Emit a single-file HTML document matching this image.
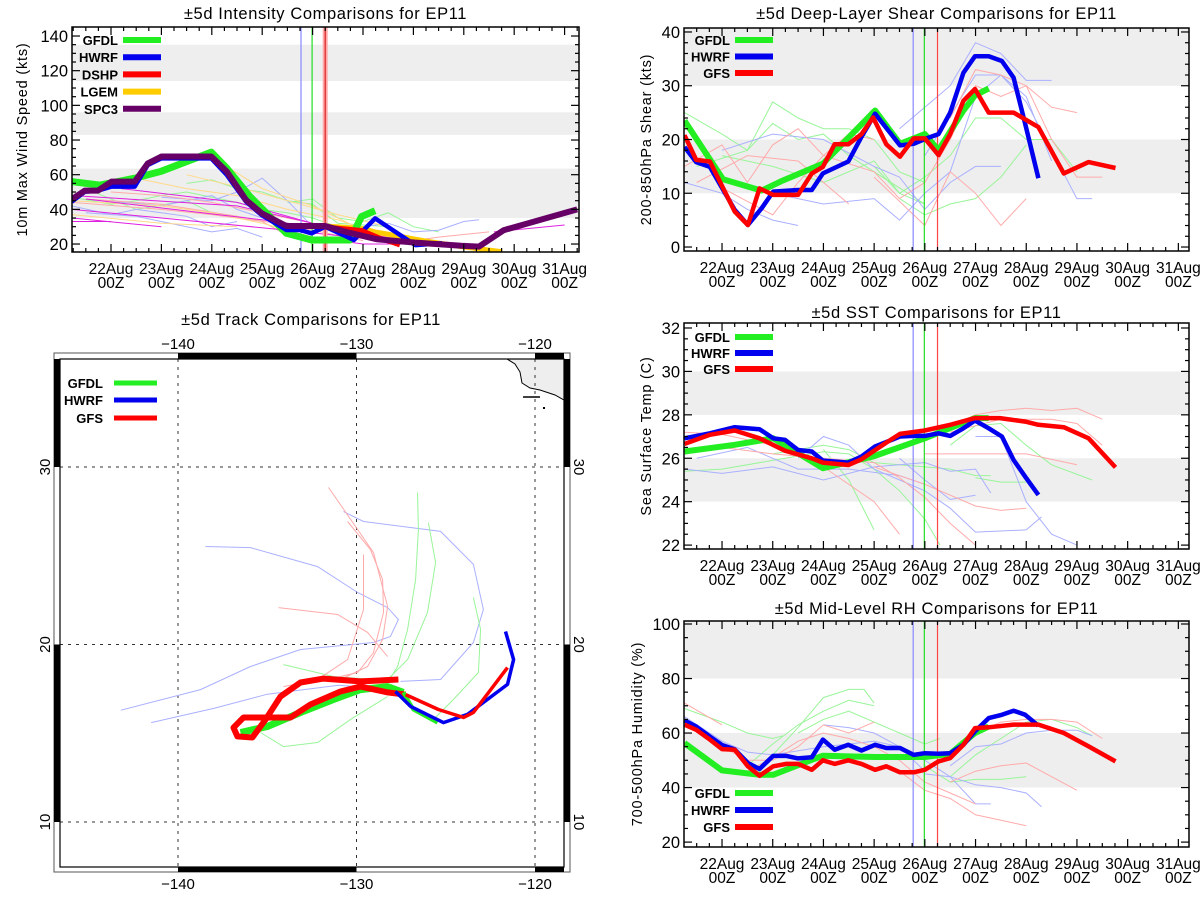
<!DOCTYPE html>
<html><head><meta charset="utf-8"><style>
html,body{margin:0;padding:0;background:#fff}
svg{display:block;font-family:"Liberation Sans",sans-serif}
</style></head><body>
<svg id="c" width="1200" height="900" viewBox="0 0 1200 900" xmlns="http://www.w3.org/2000/svg"></svg>
<script>
// ---------- data (days relative to 22Aug 00Z) ----------
const dayLabels = ["22Aug","23Aug","24Aug","25Aug","26Aug","27Aug","28Aug","29Aug","30Aug","31Aug"];
const initTimes = [3.77, 3.99, 4.25]; // HWRF, GFDL, DSHP/GFS init verticals

// Intensity
const intSpc3D = [-0.78,-0.52,-0.26,0.01,0.47,0.73,1.0,1.99,2.3,2.68,2.99,3.48,4.25,4.66,5.28,6.04,6.95,7.3,7.79,9.25];
const intSpc3V = [45.8,50.8,50.8,56,56,66.5,70.5,70.5,61.7,45.4,37.7,30.4,30.4,27,22.7,20.8,19,18.5,28,40];
const intGfdlD = [-0.78,-0.22,0.47,1.0,1.99,2.3,2.76,3.48,3.98,4.74,4.97,5.24];
const intGfdlV = [56,54,58,62,73,63.7,47.3,26.2,22.3,22.3,35.8,39.2];
const intHwrfD = [-0.78,-0.52,-0.26,0.01,0.47,0.73,1.0,1.99,2.3,2.68,2.99,3.48,3.75,3.98,4.25,4.82,5.24,6.04,6.57];
const intHwrfV = [44.4,50.2,50.8,53.1,53.1,65.6,69.4,69.4,59.8,44.4,36.7,28.1,28.1,26.2,30,22.3,34.8,19.4,20.4];
const intDshpD = [4.25,4.97,5.43,5.73];
const intDshpV = [30,28,22.3,19.4];
const intLgemD = [4.25,4.97,5.24,6.19,6.95,7.76];
const intLgemV = [30.4,29,27,22,18.5,15.6];
const intFaintGreen = [[[-0.78,47],[0,43],[0.5,45],[1,48],[1.5,50],[2,47],[2.5,44],[3,40],[3.5,38],[4,35],[4.5,30]],[[1.5,55],[2,57],[2.5,52],[3,50],[3.5,45],[4,43],[4.5,32],[5.5,30]],[[3.5,44],[4,46],[4.5,35],[5,33],[5.5,38],[6,30],[6.5,27]],[[-0.5,52],[0.5,40],[1.5,45],[2,38],[2.5,35]]];
const intFaintBlue = [[[-0.78,42],[0,37],[0.5,40],[1,38],[1.5,36],[2,30],[2.5,33]],[[1,47],[2,45],[2.5,50],[3,58],[3.5,45],[4,30]],[[4.5,28],[5.5,32],[6,27],[6.5,28],[7,33],[7.3,34]],[[0,45],[1,42],[2,48],[2.5,40],[3,35],[3.5,32]],[[-0.5,38],[0.5,36],[1.5,30],[2,27],[2.5,29],[3,24]]];
const intFaintPink = [[[-0.78,44],[1,40],[2,37],[3,33],[3.5,25]],[[0,50],[1,48],[2,44],[3,38],[4,32],[5,26],[6,22]],[[5.5,20],[6.5,24],[7.5,27]],[[-0.5,46],[1,43],[2.5,36],[4,28],[5,22]]];
const intFaintYellow = [[[-0.78,37],[1,32],[2.5,30]],[[0.5,58],[1.5,52],[2.5,48],[3.5,40],[4.5,34],[5.5,24]],[[1.5,60],[2.5,53],[3.5,45],[4.5,37],[5.5,30]],[[2,70],[3,52],[4,42],[5,28],[6,22],[7,20]],[[-0.78,45],[1,42],[2,38],[3,32],[4,24]]];
const intFaintMagenta = [[[-0.78,48],[2.5,42],[4.3,30]],[[-0.78,40],[1,35],[3.5,28],[4.8,24]],[[-0.78,33],[0,33]],[[-0.78,35],[1,30]],[[0.2,52],[2.5,44],[4,32],[5.8,22]],[[4,24],[5,20],[6,20],[7.2,18]],[[7.6,27],[9,31]],[[-0.5,46],[3,34],[5,26]]];

// Shear
const shrGfdlD = [-0.74,0.02,0.78,1.16,1.99,3.02,3.51,4.0,4.27,4.76,4.99,5.26];
const shrGfdlV = [23.5,12.6,10.5,12.2,15.5,25.4,19.2,21.0,18.0,25.4,28.2,29.5];
const shrHwrfD = [-0.74,-0.51,-0.24,0.25,0.51,0.78,1.01,1.5,1.77,1.99,2.49,2.75,3.02,3.51,3.78,4.0,4.27,4.5,4.76,4.99,5.26,5.52,5.75,5.98,6.24];
const shrHwrfV = [18.6,15.8,14.9,6.9,4.1,7.2,10.3,10.6,10.6,13.7,15.9,20.5,24.8,18.9,19.2,20.1,21.0,25.0,32.4,35.5,35.5,34.6,31.5,22.9,12.8];
const shrGfsD = [-0.74,-0.51,-0.24,0.25,0.51,0.74,1.01,1.5,1.77,1.99,2.22,2.49,2.75,2.98,3.24,3.51,3.78,4.0,4.27,4.5,4.76,4.99,5.26,5.75,6.24,6.74,7.23,7.76];
const shrGfsV = [20.8,16.2,15.9,6.6,4.1,10.9,9.7,9.7,13.7,14.9,19.1,19.1,21.0,24.1,19.1,16.8,20.2,20.2,17.1,21.0,27.2,29.4,25.0,25.0,22.3,13.7,15.8,14.7];
const shrFaintGreen = [[[-0.74,25],[0,21],[0.5,18],[1,27],[1.5,24],[2,22],[2.5,22],[3,20],[3.5,14],[4,12]],[[-0.5,15],[0.5,18],[1,23],[1.5,20],[2,21],[2.5,17],[3,14],[3.5,11],[4,8]],[[3,15],[3.5,10],[4,13],[4.5,17],[5,24],[5.5,24],[6,20],[6.5,20],[7,14]],[[3.5,9],[4,6],[4.5,8],[5,9],[5.5,13],[6,19]],[[0,17],[1,15],[2,12],[3,16],[3.5,10],[4,8]]];
const shrFaintBlue = [[[-0.74,12],[0,10],[0.5,7],[1,5],[1.5,4]],[[0,18],[1,21],[2,20],[3,15],[3.5,13],[4,7],[4.5,12],[5,15],[5.5,15]],[[3.5,22],[4,26],[4.5,30],[5,38],[5.5,36],[6,31],[6.5,31]],[[1,10],[2,8],[3,9],[3.5,5],[4,10],[4.5,14],[5,28],[5.5,32],[6,28],[6.5,16]],[[4,17],[5,32],[5.5,32],[6,27],[6.5,18],[7,9],[7.3,9]]];
const shrFaintPink = [[[-0.74,15],[0,19],[0.5,12],[1,19],[1.5,22],[2,17],[3,14],[3.5,9]],[[0,11],[1,6],[1.5,12],[2,17],[2.5,21],[3,20]],[[3.5,9],[4,12],[4.5,20],[5,30],[5.5,28],[6,30],[6.5,26],[7,25]],[[3,13],[4,4],[4.5,14],[5,10],[5.5,4],[6,9]],[[4.5,24],[5,33],[5.5,32],[6,30],[6.5,20],[7,13],[7.5,13]],[[-0.5,12],[0.5,17],[1.5,16],[2.5,8]]];

// SST
const sstGfdlD = [-0.74,0.25,1.01,1.99,2.98,4.0,4.99,5.26];
const sstGfdlV = [26.31,26.62,26.92,25.54,26.08,26.92,27.85,27.85];
const sstHwrfD = [-0.74,-0.24,0.25,0.74,1.01,1.24,1.5,1.77,1.99,2.49,2.75,3.02,3.51,3.78,4.0,4.27,4.5,4.76,4.99,5.26,5.52,5.75,5.98,6.24];
const sstHwrfV = [26.92,27.15,27.43,27.34,26.92,26.85,26.38,26.31,25.89,25.8,26.08,26.54,27.0,27.03,27.03,27.15,27.03,27.38,27.74,27.38,27.0,25.92,25.15,24.31];
const sstGfsD = [-0.74,-0.24,0.25,0.74,1.24,1.77,1.99,2.49,2.75,3.24,3.51,4.0,4.5,4.99,5.48,5.98,6.24,6.74,7.23,7.76];
const sstGfsV = [26.66,27.08,27.28,26.92,26.35,26.0,25.8,25.69,25.95,26.72,27.12,27.28,27.54,27.85,27.85,27.69,27.54,27.43,26.92,25.58];
const sstFaintGreen = [[[-0.74,25.4],[0,25.5],[1,25.9],[2,26.3],[2.5,26.2],[3,25.5],[3.5,24.5],[4,23.2],[4.3,22]],[[1,26.2],[2,26.6],[2.5,26.4],[3,25.8],[3.5,25.7],[4,25.6],[4.5,25.5],[5,25.2],[5.3,25.2]],[[2,26.4],[2.5,25],[3,22.7]],[[4.5,26.6],[5,27.5],[5.5,27.6],[6,26.6],[6.5,25.7],[7.3,25]],[[5,25.1],[5.5,24.9],[6,24.9]]];
const sstFaintBlue = [[[-0.74,25.5],[0,25.3],[1,25.6],[2,25],[3,25.6],[4,25.8],[4.5,25.4],[5,25.5],[5.3,24.4]],[[1.5,26],[2,27],[2.5,26.6],[3,25.5],[4,24.5],[4.5,23.7],[5,22.6],[6,22.7],[6.3,23.3]],[[3.5,26],[4,25],[4.5,24.1],[5,24.3]],[[5,27],[5.5,27],[6,24],[6.5,22.5],[7,22]],[[-0.5,26],[0.5,26.5],[1,26],[1.5,25.5],[2.5,25.5],[3.5,25.2],[4,24.8]]];
const sstFaintPink = [[[-0.74,27.2],[0,27.1],[1,26.6],[2,25.6],[3,24],[3.5,22.5]],[[0,26.5],[1,26.2],[2,26],[3,25.8],[3.5,25.1],[4,24.2],[4.5,23],[5,22]],[[4.5,27.5],[5,28],[5.5,28.2],[6,28.3],[6.5,28.2],[7,28.3],[7.5,27.8]],[[4,26.2],[5,26.2],[6,26.2],[7,25.7]],[[3,25.6],[4,24.8],[5,23.8],[5.5,23.6],[6,23.7]],[[4.5,27.2],[5.5,27.8],[6.5,27.8],[7,27.6],[7.5,26.6]]];

// RH
const rhGfdlD = [-0.74,0.0,0.74,1.01,1.77,1.99,3.02,4.0,4.5,4.99,5.26];
const rhGfdlV = [56.3,46.3,44.7,44.7,50.2,51.7,51.2,51.2,52.4,60.0,62.4];
const rhHwrfD = [-0.74,-0.51,-0.24,0.0,0.25,0.51,0.74,1.01,1.27,1.5,1.77,1.99,2.22,2.49,2.75,3.02,3.24,3.51,3.78,4.0,4.27,4.5,4.76,4.99,5.26,5.52,5.75,5.98,6.24];
const rhHwrfV = [64.6,62.4,58.7,55.6,54.0,49.0,46.8,51.6,51.6,50.7,51.1,57.6,53.9,55.7,53.6,55.7,54.5,54.5,52.0,52.6,52.4,52.6,55.7,60.6,65.5,66.7,68.2,66.7,62.7];
const rhGfsD = [-0.74,-0.51,-0.24,0,0.25,0.51,0.74,1.01,1.27,1.5,1.77,1.99,2.22,2.49,2.75,3.02,3.24,3.51,3.78,4.0,4.27,4.5,4.76,4.99,5.26,5.75,6.24,6.74,7.23,7.76];
const rhGfsV = [63.1,61.2,57.6,54.1,53.9,47.8,44.3,47.8,48.7,48.7,46.5,50.0,48.7,50.0,48.7,46.5,47.8,45.6,45.6,46.5,49.6,50.8,55.7,61.8,62.1,63.1,63.1,60.0,55.1,49.6];
const rhFaintGreen = [[[-0.74,69],[0,64],[0.5,60],[1,58],[1.2,59]],[[0.5,48],[1,56],[1.5,63],[2,68],[2.5,72],[3,70]],[[1.5,60],[2,65],[2.5,68],[3,64],[3.5,60],[4,56],[4.3,58]],[[1,52],[1.5,62],[2,73],[2.5,76],[2.8,76],[3,71]],[[4,48],[4.5,42],[5,43],[5.5,43],[6,44]],[[4.5,44],[5,52],[5.5,58],[6,64],[6.5,65],[7,62],[7.3,59]]];
const rhFaintBlue = [[[-0.74,66],[0,57],[0.5,53],[1,52],[2,55],[3,57],[3.5,55],[4,46]],[[2,63],[2.5,62],[3,60],[4,50],[4.5,44],[5,34],[5.3,34]],[[4,45],[4.5,44],[5,41],[5.5,40],[6,38],[6.3,33]],[[4.5,48],[5,55],[5.5,56],[6,60],[6.5,61],[7,61],[7.3,59]]];
const rhFaintPink = [[[-0.74,71],[0,63]],[[-0.5,62],[0,55],[0.5,50],[1,50],[1.5,55],[2,63],[2.5,60],[3,64]],[[0.5,46],[1,51],[1.5,57],[2,60],[2.5,58],[3,55],[3.5,50],[4,42],[4.5,38],[5,34]],[[3.5,46],[4,39],[4.5,36],[5,30],[5.5,28],[6,26]],[[4.5,42],[5,46],[5.5,48],[6,49],[6.5,44],[7,39]],[[5,60],[5.5,64],[6,65],[6.5,65],[7,64],[7.5,58]]];

// Track (lon, lat)
const trkGfsLon = [-127.25,-128.26,-129.78,-130.9,-132.58,-133.7,-136.33,-136.89,-136.67,-135.83,-135.1,-134.26,-133.14,-131.85,-129.78,-127.65];
const trkGfsLat = [17.18,17.3,17.63,17.35,16.62,15.89,15.89,15.32,14.82,14.76,15.77,17.07,17.86,18.08,17.92,18.03];
const trkGfdlLon = [-127.37,-128.26,-129.78,-131.29,-133.14,-134.99,-136.5];
const trkGfdlLat = [17.3,17.63,17.46,16.9,16.17,15.38,15.04];
const trkGfdlFcLon = [-127.37,-126.81,-125.46];
const trkGfdlFcLat = [17.3,16.34,15.6];
const trkHwrfFcLon = [-127.82,-126.97,-125.13,-123.78,-121.54,-121.2,-121.65];
const trkHwrfFcLat = [17.35,16.51,15.6,16.06,17.75,19.15,20.73];
const trkGfsFcLon = [-127.25,-125.41,-124.0,-123.45,-121.54];
const trkGfsFcLat = [17.18,16.34,15.89,16.17,18.7];
const trkFaintBlue = [[[-143.2,16.3],[-138.74,17.46],[-135.94,18.76],[-133.14,19.72],[-129.05,20.11],[-128.1,20.45],[-127.65,21.41],[-128.26,22.08],[-129.94,22.93],[-132.18,24.39],[-135.94,25.46],[-138.46,25.52]],[[-130.73,27.49],[-129.61,26.93],[-125.29,26.37],[-123.45,24.51],[-122.89,21.97],[-123.45,20.11],[-125.29,18.03],[-127.54,17.92]],[[-141.5,15.6],[-138,16.4],[-135,17.2],[-131,17.7],[-128,17.5]]];
const trkFaintGreen = [[[-126.58,28.56],[-126.53,26.48],[-126.69,23.66],[-127.14,20.85],[-127.7,18.76],[-128.26,17.86]],[[-125.97,26.87],[-125.57,24.62],[-126.02,21.8],[-127.14,19.15],[-128.26,18.03]],[[-123.45,22.65],[-123.05,20.85],[-123.17,18.42],[-124.57,16.9],[-125.69,15.77]],[[-134.09,18.87],[-131.29,18.2],[-129.05,18.03]],[[-135.38,15.04],[-134.09,14.25],[-132.18,14.48],[-130.34,15.77],[-128.26,17.07]]];
const trkFaintPink = [[[-131.57,28.85],[-129.94,26.48],[-129.05,25.18],[-128.26,22.14],[-128.54,20.28],[-129.38,18.76],[-130.9,18.03]],[[-130.5,26.93],[-129.22,25.35],[-128.54,23.66],[-128.49,21.8],[-129.05,19.55],[-129.94,18.42],[-131.62,18.03]],[[-129.61,25.07],[-129.61,21.97],[-130.5,19.15],[-132.18,18.03],[-134.09,17.63]],[[-134.37,22.08],[-131.06,21.69],[-129.38,20.68],[-128.26,19.32]]];

// ---------- drawing ----------
const NS="http://www.w3.org/2000/svg";
const svg=document.getElementById('c');
function el(tag,attrs,parent){const e=document.createElementNS(NS,tag);for(const k in attrs)e.setAttribute(k,attrs[k]);(parent||svg).appendChild(e);return e;}
function txt(s,attrs,parent){const t=el('text',attrs,parent);t.textContent=s;return t;}

function panel(cfg){
  const g=el('g',{});
  
  
  const X=d=>cfg.x0+(d-cfg.dmin)/(cfg.dmax-cfg.dmin)*(cfg.x1-cfg.x0);
  const Y=v=>cfg.y1-(v-cfg.vmin)/(cfg.vmax-cfg.vmin)*(cfg.y1-cfg.y0);
  cfg.bands.forEach(b=>{
    const r=el('rect',{x:cfg.x0,y:Y(Math.min(b[1],cfg.vmax)),width:cfg.x1-cfg.x0,height:Y(b[0])-Y(Math.min(b[1],cfg.vmax)),fill:'#eeeeee'},g);
    
    
  });
  const clipId='clip'+cfg.name;
  const cp=el('clipPath',{id:clipId},g);el('rect',{x:cfg.x0,y:cfg.y0,width:cfg.x1-cfg.x0,height:cfg.y1-cfg.y0},cp);
  const pg=el('g',{'clip-path':'url(#'+clipId+')'},g);
  cfg.faint.forEach(f=>{
    f.lines.forEach(pts=>{
      const p=el('polyline',{points:pts.map(q=>X(q[0]).toFixed(1)+','+Y(q[1]).toFixed(1)).join(' '),fill:'none',stroke:f.color,'stroke-width':f.w||1,opacity:f.op||1},pg);
      
      
    });
  });
  const vcols=[['#8888ff',1.2],['#22dd22',1.2],[cfg.redV||'#ff4444',1.2]];
  initTimes.forEach((d,i)=>{
    if(i===2&&cfg.redWide){el('line',{x1:X(d),x2:X(d),y1:cfg.y0,y2:cfg.y1,stroke:'#ffaaaa','stroke-width':5},pg);}
    const l=el('line',{x1:X(d),x2:X(d),y1:cfg.y0,y2:cfg.y1,stroke:vcols[i][0],'stroke-width':vcols[i][1]},pg);
    
    
  });
  cfg.series.forEach(s=>{
    const p=el('polyline',{points:s.d.map((d,i)=>X(d).toFixed(1)+','+Y(s.v[i]).toFixed(1)).join(' '),fill:'none',stroke:s.color,'stroke-width':s.w,'stroke-linejoin':'round'},pg);
    
    
  });
  el('rect',{x:cfg.x0,y:cfg.y0,width:cfg.x1-cfg.x0,height:cfg.y1-cfg.y0,fill:'none',stroke:'#000','stroke-width':1.5},g);
  for(let h=-0.75;h<=9.25;h+=0.25){
    const x=X(h);if(x<cfg.x0+1||x>cfg.x1-1)continue;
    const L=Number.isInteger(h)?8:4;
    el('line',{x1:x,x2:x,y1:cfg.y1,y2:cfg.y1-L,stroke:'#000','stroke-width':1.2},g);
    el('line',{x1:x,x2:x,y1:cfg.y0,y2:cfg.y0+L,stroke:'#000','stroke-width':1.2},g);
  }
  dayLabels.forEach((lab,i)=>{
    const t1=txt(lab,{x:X(i),y:cfg.y1+22,'font-size':15.5,'text-anchor':'middle'},g);
    
    
    const t2=txt('00Z',{x:X(i),y:cfg.y1+36,'font-size':15.5,'text-anchor':'middle'},g);
    
    
  });
  const nMin=Math.round((cfg.yt1-cfg.yt0)/cfg.minor);
  const per=Math.round(cfg.major/cfg.minor);
  for(let k=0;k<=nMin;k++){
    const v=cfg.yt0+k*cfg.minor;
    const y=Y(v);const maj=(k%per===0);
    const L=maj?8:4;
    el('line',{x1:cfg.x0,x2:cfg.x0+L,y1:y,y2:y,stroke:'#000','stroke-width':1.2},g);
    el('line',{x1:cfg.x1,x2:cfg.x1-L,y1:y,y2:y,stroke:'#000','stroke-width':1.2},g);
    if(maj){const t=txt(String(Math.round(v)),{x:cfg.x0-4,y:y+6,'font-size':16.5,'text-anchor':'end'},g);
      
      }
  }
  const tt=txt(cfg.title,{x:(cfg.x0+cfg.x1)/2,y:cfg.titleY,'font-size':16.5,'text-anchor':'middle','letter-spacing':'0.6'},g);
  
  
  const yt=txt(cfg.ytitle,{x:0,y:0,'font-size':14.5,'text-anchor':'middle','letter-spacing':'0.8',transform:'translate('+cfg.ytx+','+((cfg.y0+cfg.y1)/2)+') rotate(-90)'},g);
  
  
  cfg.legend.forEach((it,i)=>{
    const ly=cfg.legY+i*cfg.legDy;
    const t=txt(it[0],{x:cfg.legTx,y:ly+5,'font-size':13,'font-weight':'bold','text-anchor':'end'},g);
    
    
    const l=el('line',{x1:cfg.legTx+5,x2:cfg.legTx+43,y1:ly,y2:ly,stroke:it[1],'stroke-width':6},g);
    
    
  });
}

const fG='#99f599',fB='#aab0ff',fP='#ffaaaa',fY='#ffd98a';
panel({name:'intensity-panel',x0:72,x1:579,y0:27,y1:252,dmin:-0.774,dmax:9.286,vmin:15.4,vmax:145.2,
  bands:[[35,63.5],[83,96],[114,135]],yt0:20,yt1:140,major:20,minor:5,
  title:'±5d Intensity Comparisons for EP11',titleY:19,ytitle:'10m Max Wind Speed (kts)',ytx:27,redWide:true,redV:'#dd2222',
  faint:[{lines:intFaintGreen,color:fG},{lines:intFaintBlue,color:fB},{lines:intFaintPink,color:fP},{lines:intFaintYellow,color:fY},{lines:intFaintMagenta,color:'#e020e0'}],
  series:[{name:'lgem-line',d:intLgemD,v:intLgemV,color:'#ffcc00',w:5},{name:'gfdl-line',d:intGfdlD,v:intGfdlV,color:'#22ee22',w:7},{name:'hwrf-line',d:intHwrfD,v:intHwrfV,color:'#0000ee',w:4.5},{name:'dshp-line',d:intDshpD,v:intDshpV,color:'#ff0000',w:4.5},{name:'spc3-line',d:intSpc3D,v:intSpc3V,color:'#660066',w:6}],
  legend:[['GFDL','#22ee22'],['HWRF','#0000ee'],['DSHP','#ff0000'],['LGEM','#ffcc00'],['SPC3','#660066']],legTx:118,legY:40,legDy:17.2});

panel({name:'shear-panel',x0:684,x1:1189,y0:28,y1:251,dmin:-0.75,dmax:9.21,vmin:-0.74,vmax:40.74,
  bands:[[10,20],[30,41]],yt0:0,yt1:40,major:10,minor:2,
  title:'±5d Deep-Layer Shear Comparisons for EP11',titleY:19,ytitle:'200-850hPa Shear (kts)',ytx:651,
  faint:[{lines:shrFaintGreen,color:fG},{lines:shrFaintBlue,color:fB},{lines:shrFaintPink,color:fP}],
  series:[{name:'gfdl-line',d:shrGfdlD,v:shrGfdlV,color:'#22ee22',w:6},{name:'hwrf-line',d:shrHwrfD,v:shrHwrfV,color:'#0000ee',w:4.5},{name:'gfs-line',d:shrGfsD,v:shrGfsV,color:'#ff0000',w:4.5}],
  legend:[['GFDL','#22ee22'],['HWRF','#0000ee'],['GFS','#ff0000']],legTx:730,legY:40,legDy:16.5});

panel({name:'sst-panel',x0:684,x1:1189,y0:323,y1:549,dmin:-0.75,dmax:9.21,vmin:21.82,vmax:32.23,
  bands:[[24,26],[28,30]],yt0:22,yt1:32,major:2,minor:0.5,
  title:'±5d SST Comparisons for EP11',titleY:318,ytitle:'Sea Surface Temp (C)',ytx:651,
  faint:[{lines:sstFaintGreen,color:fG},{lines:sstFaintBlue,color:fB},{lines:sstFaintPink,color:fP}],
  series:[{name:'gfdl-line',d:sstGfdlD,v:sstGfdlV,color:'#22ee22',w:6},{name:'hwrf-line',d:sstHwrfD,v:sstHwrfV,color:'#0000ee',w:4.5},{name:'gfs-line',d:sstGfsD,v:sstGfsV,color:'#ff0000',w:4.5}],
  legend:[['GFDL','#22ee22'],['HWRF','#0000ee'],['GFS','#ff0000']],legTx:730,legY:337,legDy:16});

panel({name:'rh-panel',x0:684,x1:1189,y0:621,y1:847,dmin:-0.75,dmax:9.21,vmin:18.2,vmax:101.1,
  bands:[[40,60],[80,101.1]],yt0:20,yt1:100,major:20,minor:5,
  title:'±5d Mid-Level RH Comparisons for EP11',titleY:614,ytitle:'700-500hPa Humidity (%)',ytx:642,
  faint:[{lines:rhFaintGreen,color:fG},{lines:rhFaintBlue,color:fB},{lines:rhFaintPink,color:fP}],
  series:[{name:'gfdl-line',d:rhGfdlD,v:rhGfdlV,color:'#22ee22',w:6},{name:'hwrf-line',d:rhHwrfD,v:rhHwrfV,color:'#0000ee',w:4.5},{name:'gfs-line',d:rhGfsD,v:rhGfsV,color:'#ff0000',w:4.5}],
  legend:[['GFDL','#22ee22'],['HWRF','#0000ee'],['GFS','#ff0000']],legTx:730,legY:793,legDy:17});

// ---------- track map ----------
(function(){
  const g=el('g',{});
  
  
  const LX=lon=>178+(lon+140)*17.85;
  const LY=lat=>467-(lat-30)*17.75;
  const ix0=60,ix1=564,iy0=359,iy1=867;
  const t=txt('±5d Track Comparisons for EP11',{x:311,y:325,'font-size':16.5,'text-anchor':'middle','letter-spacing':'0.6'},g);
  
  
  const land=el('polygon',{points:'507,359 515,364 520,372 522,383 530,388 540,390 555,395 564,400 564,359',fill:'#eeeeee',stroke:'#000','stroke-width':1},g);
  
  
  el('line',{x1:523,x2:540,y1:397,y2:397,stroke:'#000','stroke-width':1.5},g);
  el('rect',{x:543,y:407,width:2,height:2,fill:'#000'},g);
  [-140,-130,-120].forEach(lon=>{el('line',{x1:LX(lon),x2:LX(lon),y1:iy0,y2:iy1,stroke:'#333','stroke-width':1,'stroke-dasharray':'3,5'},g);});
  [30,20,10].forEach(lat=>{el('line',{x1:ix0,x2:ix1,y1:LY(lat),y2:LY(lat),stroke:'#333','stroke-width':1,'stroke-dasharray':'3,5'},g);});
  const cp=el('clipPath',{id:'mapclip'},g);el('rect',{x:ix0,y:iy0,width:ix1-ix0,height:iy1-iy0},cp);
  const pg=el('g',{'clip-path':'url(#mapclip)'},g);
  [[trkFaintBlue,'#aab0ff'],[trkFaintGreen,'#99f599'],[trkFaintPink,'#ffaaaa']].forEach(f=>{
    f[0].forEach(pts=>{
      const p=el('polyline',{points:pts.map(q=>LX(q[0]).toFixed(1)+','+LY(q[1]).toFixed(1)).join(' '),fill:'none',stroke:f[1],'stroke-width':1},pg);
      
      
    });
  });
  function trk(name,lons,lats,color,w){
    const p=el('polyline',{points:lons.map((lo,i)=>LX(lo).toFixed(1)+','+LY(lats[i]).toFixed(1)).join(' '),fill:'none',stroke:color,'stroke-width':w,'stroke-linejoin':'round'},pg);
    
    
  }
  trk('gfdl-track',trkGfdlLon,trkGfdlLat,'#22ee22',7);
  trk('gfs-track',trkGfsLon,trkGfsLat,'#ff0000',6);
  trk('gfdl-forecast-track',trkGfdlFcLon,trkGfdlFcLat,'#22ee22',4);
  trk('hwrf-forecast-track',trkHwrfFcLon,trkHwrfFcLat,'#0000ee',3.5);
  trk('gfs-forecast-track',trkGfsFcLon,trkGfsFcLat,'#ff0000',3.5);
  el('rect',{x:54,y:353,width:516,height:519,fill:'none',stroke:'#555','stroke-width':1},g);
  el('rect',{x:ix0,y:iy0,width:ix1-ix0,height:iy1-iy0,fill:'none',stroke:'#000','stroke-width':1.2},g);
  el('rect',{x:LX(-140),y:353,width:LX(-130)-LX(-140),height:6,fill:'#000'},g);
  el('rect',{x:LX(-120),y:353,width:ix1-LX(-120),height:6,fill:'#000'},g);
  el('rect',{x:LX(-140),y:867,width:LX(-130)-LX(-140),height:5,fill:'#000'},g);
  el('rect',{x:LX(-120),y:867,width:ix1-LX(-120),height:5,fill:'#000'},g);
  el('rect',{x:54,y:iy0,width:6,height:LY(30)-iy0,fill:'#000'},g);
  el('rect',{x:54,y:LY(20),width:6,height:LY(10)-LY(20),fill:'#000'},g);
  el('rect',{x:564,y:iy0,width:6,height:LY(30)-iy0,fill:'#000'},g);
  el('rect',{x:564,y:LY(20),width:6,height:LY(10)-LY(20),fill:'#000'},g);
  [-140,-130,-120].forEach(lon=>{
    const a=txt('−'+Math.abs(lon),{x:LX(lon),y:349,'font-size':15,'text-anchor':'middle'},g);
    
    
    const b=txt('−'+Math.abs(lon),{x:LX(lon),y:889,'font-size':15,'text-anchor':'middle'},g);
    
    
  });
  [30,20,10].forEach(lat=>{
    const a=txt(String(lat),{x:0,y:0,'font-size':15,'text-anchor':'middle',transform:'translate(50,'+LY(lat)+') rotate(-90)'},g);
    
    
    const b=txt(String(lat),{x:0,y:0,'font-size':15,'text-anchor':'middle',transform:'translate(574,'+LY(lat)+') rotate(90)'},g);
    
    
  });
  [['GFDL','#22ee22',383],['HWRF','#0000ee',400],['GFS','#ff0000',418]].forEach(it=>{
    const a=txt(it[0],{x:103,y:it[2]+5,'font-size':13,'font-weight':'bold','text-anchor':'end'},g);
    
    
    const l=el('line',{x1:114,x2:157,y1:it[2],y2:it[2],stroke:it[1],'stroke-width':5},g);
    
    
  });
})();
</script>
</body></html>
